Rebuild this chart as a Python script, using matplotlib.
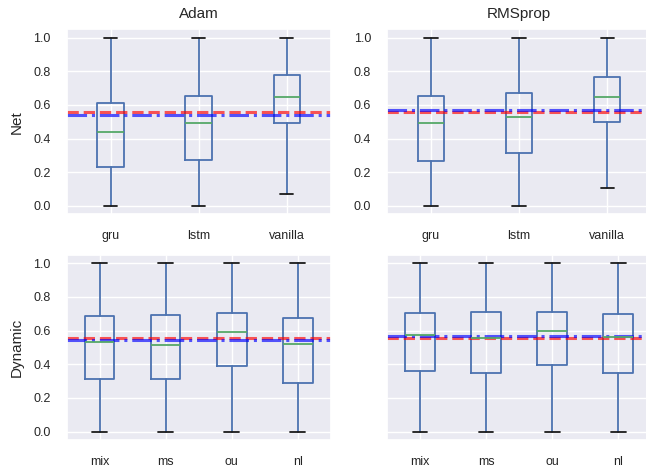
import matplotlib
matplotlib.use('Agg')
import matplotlib.pyplot as plt
import seaborn as sns

sns.set_theme(style='darkgrid')
plt.rcParams['font.family'] = ['Liberation Sans', 'DejaVu Sans']

optimizers = ['Adam', 'RMSprop']
net_labels = ['gru', 'lstm', 'vanilla']
dyn_labels = ['mix', 'ms', 'ou', 'nl']

# box statistics: whisker low, q1, median, q3, whisker high
net_lo = {'Adam': [0.0, 0.0, 0.068], 'RMSprop': [0.0, 0.0, 0.105]}
net_q1 = {'Adam': [0.232, 0.273, 0.491], 'RMSprop': [0.267, 0.317, 0.500]}
net_med = {'Adam': [0.437, 0.493, 0.645], 'RMSprop': [0.492, 0.527, 0.646]}
net_q3 = {'Adam': [0.612, 0.651, 0.778], 'RMSprop': [0.652, 0.671, 0.763]}
net_hi = {'Adam': [1.0, 1.0, 1.0], 'RMSprop': [1.0, 1.0, 1.0]}

dyn_lo = {'Adam': [0.0, 0.0, 0.0, 0.0], 'RMSprop': [0.0, 0.0, 0.0, 0.0]}
dyn_q1 = {'Adam': [0.312, 0.312, 0.392, 0.287], 'RMSprop': [0.359, 0.347, 0.398, 0.350]}
dyn_med = {'Adam': [0.534, 0.517, 0.591, 0.520], 'RMSprop': [0.571, 0.553, 0.595, 0.561]}
dyn_q3 = {'Adam': [0.684, 0.692, 0.704, 0.676], 'RMSprop': [0.704, 0.708, 0.713, 0.696]}
dyn_hi = {'Adam': [1.0, 1.0, 1.0, 1.0], 'RMSprop': [1.0, 1.0, 1.0, 1.0]}

# reference lines (red dashed, blue dash-dot)
red_net = {'Adam': 0.557, 'RMSprop': 0.556}
blue_net = {'Adam': 0.542, 'RMSprop': 0.568}
red_dyn = {'Adam': 0.557, 'RMSprop': 0.556}
blue_dyn = {'Adam': 0.546, 'RMSprop': 0.567}

box_c = '#4C72B0'
med_c = '#55A868'


def make_stats(labels, lo, q1, med, q3, hi):
    return [dict(label=l, whislo=a, q1=b, med=c, q3=d, whishi=e, fliers=[])
            for l, a, b, c, d, e in zip(labels, lo, q1, med, q3, hi)]


def draw(ax, stats, red, blue):
    ax.bxp(stats, showfliers=False,
           boxprops=dict(color=box_c, lw=1.3),
           whiskerprops=dict(color=box_c, lw=1.3),
           capprops=dict(color='k', lw=1.3),
           medianprops=dict(color=med_c, lw=1.3))
    ax.axhline(red, color='#ff0000', ls='--', lw=2.2, alpha=0.65)
    ax.axhline(blue, color='#0000ff', ls='-.', lw=2.2, alpha=0.65)
    ax.set_ylim(-0.05, 1.05)
    ax.set_yticks([0.0, 0.2, 0.4, 0.6, 0.8, 1.0])
    ax.tick_params(axis='both', labelsize=9, pad=11.5, length=0)


fig = plt.figure(figsize=(6.46, 4.71), dpi=100)
lefts = [0.103, 0.599]
w = 0.409
top_b, bot_b, h = 0.545, 0.066, 0.393

for j, opt in enumerate(optimizers):
    ax = fig.add_axes([lefts[j], top_b, w, h])
    draw(ax, make_stats(net_labels, net_lo[opt], net_q1[opt], net_med[opt],
                        net_q3[opt], net_hi[opt]), red_net[opt], blue_net[opt])
    ax.set_title(opt, fontsize=11, pad=8)
    if j == 0:
        ax.set_ylabel('Net', fontsize=11, labelpad=7)

    ax = fig.add_axes([lefts[j], bot_b, w, h])
    draw(ax, make_stats(dyn_labels, dyn_lo[opt], dyn_q1[opt], dyn_med[opt],
                        dyn_q3[opt], dyn_hi[opt]), red_dyn[opt], blue_dyn[opt])
    if j == 0:
        ax.set_ylabel('Dynamic', fontsize=11, labelpad=7)
    else:
        ax.set_yticklabels([])

fig.savefig('out.png', dpi=100)
